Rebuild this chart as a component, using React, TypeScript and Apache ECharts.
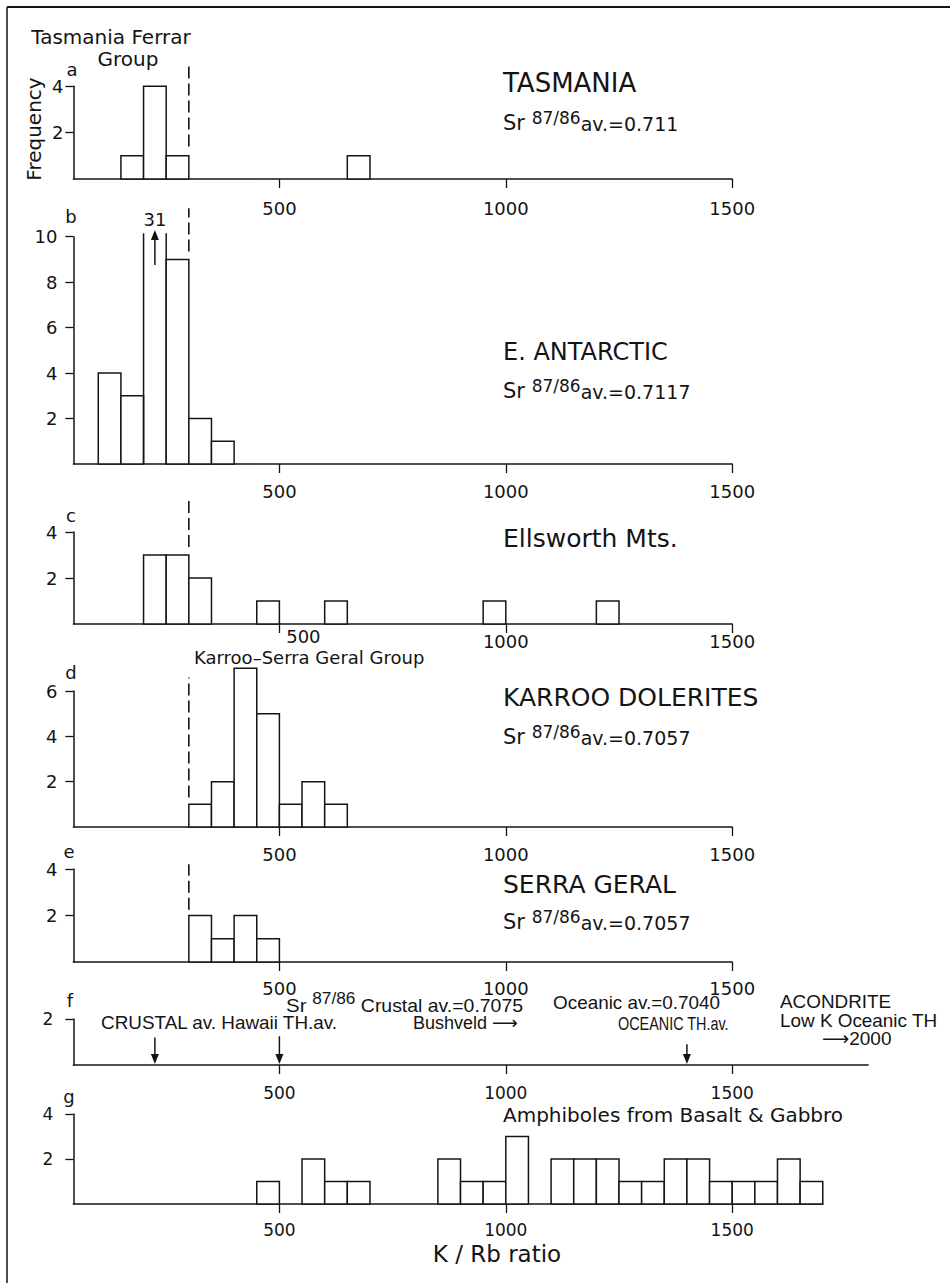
import React, { useEffect, useRef } from "react";
import * as echarts from "echarts";

// ---------------- data ----------------
const BIN_WIDTH = 50; // K/Rb class width
const kRbTicks = [500, 1000, 1500];

// [class start (K/Rb), frequency]
const tasmaniaBins = [[150, 1], [200, 4], [250, 1], [650, 1]];
const antarcticBins = [[100, 4], [150, 3], [200, 31], [250, 9], [300, 2], [350, 1]];
const ellsworthBins = [[200, 3], [250, 3], [300, 2], [450, 1], [600, 1], [950, 1], [1200, 1]];
const karrooBins = [[300, 1], [350, 2], [400, 7], [450, 5], [500, 1], [550, 2], [600, 1]];
const serraGeralBins = [[300, 2], [350, 1], [400, 2], [450, 1]];
const amphiboleBins = [
  [450, 1], [550, 2], [600, 1], [650, 1], [850, 2], [900, 1], [950, 1], [1000, 3],
  [1100, 2], [1150, 2], [1200, 2], [1250, 1], [1300, 1], [1350, 2], [1400, 2],
  [1450, 1], [1500, 1], [1550, 1], [1600, 2], [1650, 1],
];

// E. Antarctic class 200-250 (31) is cut off at this frequency
const antarcticTruncateAt = 10.15;

// Ferrar / Karroo-Serra Geral boundary (dashed), with its extent in frequency units
const groupBoundary = 300;
const boundaryA = [1.4, 5.0];
const boundaryB = [9.35, 11.25];
const boundaryC = [3.35, 5.35];
const boundaryD = [1.3, 6.6];
const boundaryE = [2.25, 4.2];

// Panel f reference arrows: [K/Rb, arrow top (frequency units)]
const referenceArrows = [[225, 1.2], [500, 1.25], [1400, 0.9]];

const yTicksA = [2, 4];
const yTicksB = [2, 4, 6, 8, 10];
const yTicksC = [2, 4];
const yTicksD = [2, 4, 6];
const yTicksE = [2, 4];
const yTicksF = [2];
const yTicksG = [2, 4];

// ---------------- layout / style ----------------
const INK = "#141414";
const SANS = "'DejaVu Sans', sans-serif";
const HELV = "'Liberation Sans', 'DejaVu Sans', sans-serif";

const PX0 = 53; // pixel of K/Rb = 0
const PX_PER = 0.4528; // pixels per K/Rb unit
const X_MIN = 45;
const GRID_LEFT = PX0 + X_MIN * PX_PER;

type Panel = {
  bins?: number[][];
  boundary?: number[];
  arrows?: number[][];
  truncateAt?: number;
  top: number;
  bottom: number;
  yMax: number;
  yTicks: number[];
  xMax: number;
  xLabelMargin: number;
  yLabelMargin: number;
  labelFont: string;
  labelSize: number;
  shiftFirst?: boolean;
};

const panels: Panel[] = [
  { bins: tasmaniaBins, boundary: boundaryA, top: 86.3, bottom: 179, yMax: 4, yTicks: yTicksA, xMax: 1500, xLabelMargin: 20, yLabelMargin: 10, labelFont: SANS, labelSize: 18 },
  { bins: antarcticBins, boundary: boundaryB, truncateAt: antarcticTruncateAt, top: 236.7, bottom: 464, yMax: 10, yTicks: yTicksB, xMax: 1500, xLabelMargin: 18, yLabelMargin: 16, labelFont: SANS, labelSize: 18 },
  { bins: ellsworthBins, boundary: boundaryC, top: 532, bottom: 624, yMax: 4, yTicks: yTicksC, xMax: 1500, xLabelMargin: 4, yLabelMargin: 16, labelFont: SANS, labelSize: 18, shiftFirst: true },
  { bins: karrooBins, boundary: boundaryD, top: 691, bottom: 827, yMax: 6, yTicks: yTicksD, xMax: 1500, xLabelMargin: 18, yLabelMargin: 16, labelFont: SANS, labelSize: 18 },
  { bins: serraGeralBins, boundary: boundaryE, top: 869, bottom: 962, yMax: 4, yTicks: yTicksE, xMax: 1500, xLabelMargin: 17, yLabelMargin: 16, labelFont: SANS, labelSize: 18 },
  { arrows: referenceArrows, top: 1019, bottom: 1065, yMax: 2, yTicks: yTicksF, xMax: 1800, xLabelMargin: 19, yLabelMargin: 20, labelFont: SANS, labelSize: 17 },
  { bins: amphiboleBins, top: 1114, bottom: 1204, yMax: 4, yTicks: yTicksG, xMax: 1700, xLabelMargin: 17, yLabelMargin: 20, labelFont: SANS, labelSize: 17 },
];

function makeHistRender(truncateAt?: number) {
  return (params: any, api: any) => {
    const start = api.value(0);
    const count = api.value(1);
    const end = start + BIN_WIDTH;
    const b0 = api.coord([start, 0]);
    const b1 = api.coord([end, 0]);
    const stroke = { stroke: INK, lineWidth: 1.5, fill: "none" };
    if (truncateAt !== undefined && count > truncateAt) {
      const t0 = api.coord([start, truncateAt]);
      const mid = start + BIN_WIDTH / 2;
      const aBot = api.coord([mid, truncateAt - 1.4]);
      const aTip = api.coord([mid, truncateAt + 0.15]);
      const lbl = api.coord([mid, truncateAt + 0.6]);
      return {
        type: "group",
        children: [
          { type: "line", shape: { x1: b0[0], y1: b0[1], x2: b0[0], y2: t0[1] }, style: stroke },
          { type: "line", shape: { x1: b1[0], y1: b1[1], x2: b1[0], y2: t0[1] }, style: stroke },
          { type: "line", shape: { x1: aBot[0], y1: aBot[1], x2: aTip[0], y2: aTip[1] + 6 }, style: { stroke: INK, lineWidth: 1.5 } },
          { type: "polygon", shape: { points: [[aTip[0] - 4, aTip[1] + 10], [aTip[0] + 4, aTip[1] + 10], [aTip[0], aTip[1]]] }, style: { fill: INK } },
          {
            type: "text", x: lbl[0], y: lbl[1],
            style: { text: String(count), fill: INK, fontSize: 18, fontFamily: SANS, align: "center", verticalAlign: "middle" },
          },
        ],
      };
    }
    const t1 = api.coord([end, count]);
    return {
      type: "rect",
      shape: { x: b0[0], y: t1[1], width: b1[0] - b0[0], height: b0[1] - t1[1] },
      style: { fill: "#ffffff", stroke: INK, lineWidth: 1.5 },
    };
  };
}

function arrowRender(params: any, api: any) {
  const v = api.value(0);
  const topV = api.value(1);
  const pT = api.coord([v, topV]);
  const pB = api.coord([v, 0]);
  return {
    type: "group",
    children: [
      { type: "line", shape: { x1: pT[0], y1: pT[1], x2: pB[0], y2: pB[1] - 6 }, style: { stroke: INK, lineWidth: 1.5 } },
      { type: "polygon", shape: { points: [[pB[0] - 4, pB[1] - 11], [pB[0] + 4, pB[1] - 11], [pB[0], pB[1] - 1]] }, style: { fill: INK } },
    ],
  };
}

function txt(text: string, x: number, y: number, size: number, opts: any = {}) {
  return {
    type: "text",
    x,
    y,
    scaleX: opts.scaleX ?? 1,
    silent: true,
    rotation: opts.rotation ?? 0,
    style: {
      text,
      fill: INK,
      fontSize: size,
      fontFamily: opts.font || SANS,
      align: opts.align || "left",
      verticalAlign: "middle",
      lineHeight: opts.lineHeight,
      rich: opts.rich,
    },
  };
}

function srRich(font: string, main: number, sup: number, big: number) {
  return {
    a: { fontSize: big, lineHeight: 24, verticalAlign: "bottom", fontFamily: font, fill: INK },
    s: { fontSize: sup, lineHeight: sup + 3, verticalAlign: "top", fontFamily: font, fill: INK },
    b: { fontSize: main, lineHeight: 24, verticalAlign: "bottom", fontFamily: font, fill: INK },
  };
}

function buildOption() {
  const grid: any[] = [];
  const xAxis: any[] = [];
  const yAxis: any[] = [];
  const series: any[] = [];

  panels.forEach((p, i) => {
    grid.push({ left: GRID_LEFT, top: p.top, width: (p.xMax - X_MIN) * PX_PER, height: p.bottom - p.top });
    const labelBase = { fontFamily: p.labelFont, fontSize: p.labelSize, color: INK };
    xAxis.push({
      gridIndex: i,
      type: "value",
      min: X_MIN,
      max: p.xMax,
      axisLine: { show: true, onZero: false, lineStyle: { color: INK, width: 1.5 } },
      axisTick: { show: true, customValues: kRbTicks, length: 9, lineStyle: { color: INK, width: 1.3 } },
      axisLabel: p.shiftFirst
        ? {
            show: true,
            customValues: kRbTicks,
            margin: p.xLabelMargin,
            ...labelBase,
            formatter: (v: number) => (v === kRbTicks[0] ? `{s|${v}}` : `{n|${v}}`),
            rich: {
              s: { ...labelBase, lineHeight: 16, padding: [0, 0, 0, 48] },
              n: { ...labelBase, lineHeight: 16, padding: [11, 0, 0, 0] },
            },
          }
        : { show: true, customValues: kRbTicks, margin: p.xLabelMargin, ...labelBase, formatter: (v: number) => String(v) },
      splitLine: { show: false },
    });
    yAxis.push({
      gridIndex: i,
      type: "value",
      min: 0,
      max: p.yMax,
      axisLine: { show: true, onZero: false, lineStyle: { color: INK, width: 1.5 } },
      axisTick: { show: true, customValues: p.yTicks, length: 8, lineStyle: { color: INK, width: 1.3 } },
      axisLabel: { show: true, customValues: p.yTicks, margin: p.yLabelMargin, ...labelBase, formatter: (v: number) => String(v) },
      splitLine: { show: false },
    });
    if (p.bins) {
      series.push({
        type: "custom",
        xAxisIndex: i,
        yAxisIndex: i,
        data: p.bins,
        clip: false,
        silent: true,
        renderItem: makeHistRender(p.truncateAt),
        z: 2,
      });
    }
    if (p.boundary) {
      series.push({
        type: "line",
        xAxisIndex: i,
        yAxisIndex: i,
        data: [[groupBoundary, p.boundary[0]], [groupBoundary, p.boundary[1]]],
        symbol: "none",
        clip: false,
        silent: true,
        lineStyle: { color: INK, width: 1.6, type: [12, 5] },
        z: 3,
      });
    }
    if (p.arrows) {
      series.push({
        type: "custom",
        xAxisIndex: i,
        yAxisIndex: i,
        data: p.arrows,
        clip: false,
        silent: true,
        renderItem: arrowRender,
        z: 3,
      });
    }
  });

  const graphic: any[] = [
    // frame
    { type: "line", silent: true, shape: { x1: 7, y1: 7, x2: 950, y2: 7 }, style: { stroke: INK, lineWidth: 2 } },
    { type: "line", silent: true, shape: { x1: 7, y1: 7, x2: 7, y2: 1283 }, style: { stroke: INK, lineWidth: 1.5 } },

    txt("Frequency", 34, 129, 20, { align: "center", rotation: Math.PI / 2 }),
    txt("Tasmania Ferrar", 111, 37, 20, { align: "center", lineHeight: 18 }),
    txt("Group", 128, 59, 20, { align: "center", lineHeight: 18 }),

    txt("a", 72, 69, 18, { align: "center" }),
    txt("b", 71, 216.5, 18, { align: "center" }),
    txt("c", 71, 515.5, 18, { align: "center" }),
    txt("d", 71, 672.5, 18, { align: "center" }),
    txt("e", 69, 851.5, 18, { align: "center" }),
    txt("f", 70, 1000, 18, { align: "center" }),
    txt("g", 69, 1096.5, 18, { align: "center" }),

    txt("TASMANIA", 503, 83, 26),
    txt("{a|Sr }{s|87/86}{b|av.=0.711}", 503, 121, 19, { rich: srRich(SANS, 19, 17, 21) }),
    txt("E. ANTARCTIC", 503, 352, 24),
    txt("{a|Sr }{s|87/86}{b|av.=0.7117}", 503, 389, 19, { rich: srRich(SANS, 19, 17, 21) }),
    txt("Ellsworth Mts.", 503, 538, 25),
    txt("Karroo\u2013Serra Geral Group", 194, 657, 18, { lineHeight: 15 }),
    txt("KARROO DOLERITES", 503, 697, 25),
    txt("{a|Sr }{s|87/86}{b|av.=0.7057}", 503, 735, 19, { rich: srRich(SANS, 19, 17, 21) }),
    txt("SERRA GERAL", 503, 884, 25),
    txt("{a|Sr }{s|87/86}{b|av.=0.7057}", 503, 920, 19, { rich: srRich(SANS, 19, 17, 21) }),

    txt("{a|Sr }{s|87/86}{b| Crustal av.=0.7075}", 286, 1003, 18, { font: HELV, scaleX: 1.08, rich: srRich(HELV, 18, 16, 19) }),
    txt("Oceanic av.=0.7040", 553, 1003, 18, { font: HELV, scaleX: 1.05, lineHeight: 15 }),
    txt("ACONDRITE", 780, 1002, 18, { font: HELV, scaleX: 1.05, lineHeight: 15 }),
    txt("CRUSTAL av. Hawaii TH.av.", 101, 1023, 18, { font: HELV, scaleX: 1.05, lineHeight: 15 }),
    txt("Bushveld \u27F6", 413, 1023, 18, { font: HELV, lineHeight: 15 }),
    txt("OCEANIC TH.av.", 618, 1023, 18, { font: HELV, scaleX: 0.8, lineHeight: 15 }),
    txt("Low K Oceanic TH", 780, 1021, 18, { font: HELV, scaleX: 1.05, lineHeight: 15 }),
    txt("\u27F62000", 822, 1038, 19, { font: HELV, lineHeight: 15 }),

    txt("Amphiboles from Basalt & Gabbro", 503, 1115, 20),
    txt("K / Rb ratio", 497, 1254, 23, { align: "center" }),
  ];

  return {
    animation: false,
    backgroundColor: "#ffffff",
    grid,
    xAxis,
    yAxis,
    series,
    graphic,
  };
}

export default function App() {
  const ref = useRef<HTMLDivElement>(null);
  useEffect(() => {
    if (!ref.current) return;
    const chart = echarts.init(ref.current, undefined, { renderer: "svg" });
    chart.setOption(buildOption() as any);
    return () => chart.dispose();
  }, []);
  return (
    <div
      ref={ref}
      style={{ position: "absolute", left: 0, top: 0, width: 950, height: 1283, background: "#fff" }}
    />
  );
}
